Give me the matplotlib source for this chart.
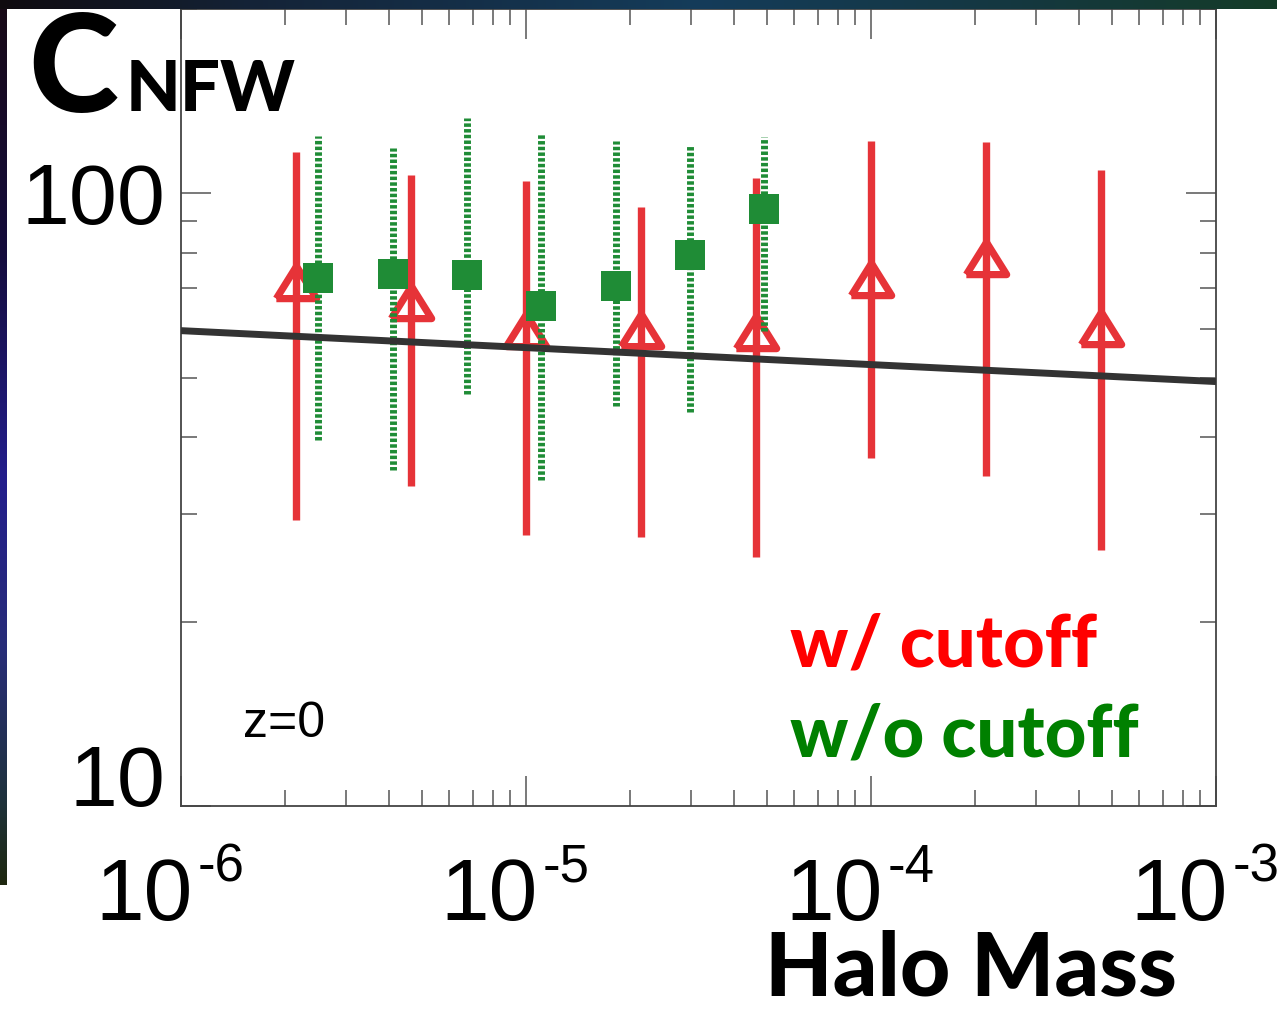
import numpy as np
import matplotlib
matplotlib.use('Agg')
import matplotlib.pyplot as plt
from matplotlib.transforms import blended_transform_factory, offset_copy

# ---------------- data ----------------
red_mass = [2.15e-6, 4.64e-6, 1.0e-5, 2.15e-5, 4.64e-5, 1.0e-4, 2.15e-4, 4.64e-4]
red_c = [71.6, 66.6, 59.9, 59.9, 59.3, 72.6, 78.3, 60.4]
red_hi = [117.0, 107.0, 104.6, 94.9, 105.8, 121.6, 121.2, 109.4]
red_lo = [29.3, 33.3, 27.7, 27.5, 25.5, 37.0, 34.6, 26.2]

green_mass = [2.49e-6, 4.12e-6, 6.75e-6, 1.105e-5, 1.82e-5, 2.99e-5, 4.90e-5]
green_c = [72.9, 73.8, 73.5, 65.4, 70.5, 79.2, 94.2]
green_hi = [123.9, 118.5, 132.6, 125.3, 121.6, 119.4, 123.5]
green_lo = [39.6, 35.4, 47.0, 34.0, 44.9, 44.0, 59.7]

model_mass = [1e-6, 1e-3]
model_c = [59.7, 49.3]

xticks = [1e-6, 1e-5, 1e-4, 1e-3]
xtick_exp = ['-6', '-5', '-4', '-3']
yticks = [10, 100]
ytick_labels = ['10', '100']

# ---------------- style ----------------
W, H = 1277, 1009
RED = '#e63338'
GREEN = '#1f8c36'
NARROW = ['Liberation Sans', 'Open Sans', 'DejaVu Sans']
HEAVY = ['Lato', 'Liberation Sans', 'DejaVu Sans']

fig = plt.figure(figsize=(W / 100, H / 100), dpi=100)
fig.patch.set_facecolor('white')

def fx(x):
    return x / W

def fy(y):
    return 1 - y / H

# decorative gradient strips (left and top edges)
def gradient(stops, n):
    pos = np.array([s[0] for s in stops], dtype=float)
    cols = np.array([s[1] for s in stops], dtype=float) / 255.0
    t = np.linspace(0, pos[-1], n)
    return np.stack([np.interp(t, pos, cols[:, k]) for k in range(3)], axis=1)

left = gradient([(0, (25, 10, 22)), (250, (20, 12, 60)), (480, (35, 30, 140)),
                 (650, (40, 45, 120)), (800, (30, 50, 60)), (885, (30, 40, 15))], 885)
left_img = np.repeat(left[:, None, :], 7, axis=1)
fig.figimage(left_img, xo=0, yo=H - 885, origin='upper', zorder=0)
top = gradient([(0, (15, 10, 15)), (250, (20, 35, 55)), (700, (20, 60, 90)),
                (1000, (20, 55, 65)), (1277, (20, 60, 40))], W)
top_img = np.repeat(top[None, :, :], 9, axis=0)
fig.figimage(top_img, xo=0, yo=H - 9, origin='upper', zorder=0)

ax = fig.add_axes([fx(181), fy(806), (1216 - 181) / W, (806 - 9) / H])
ax.set_xscale('log')
ax.set_yscale('log')
ax.set_xlim(1e-6, 1e-3)
ax.set_ylim(10, 200)
ax.set_facecolor('white')

for s in ax.spines.values():
    s.set_color('#444444')
    s.set_linewidth(1.3)

ax.tick_params(which='both', direction='in', top=True, right=True, color='#555555', width=1.1)
ax.tick_params(which='major', length=21.5)
ax.tick_params(which='minor', length=11.5)
ax.tick_params(axis='y', which='major', pad=11)

ax.set_xticks(xticks)
ax.set_xticklabels([''] * len(xticks))
ax.set_yticks(yticks)
ax.set_yticklabels(ytick_labels, fontsize=62, family=NARROW)
for lab in ax.get_yticklabels():
    if lab.get_text() == '10':
        lab.set_verticalalignment('baseline')
ax.tick_params(axis='y', which='minor', labelleft=False)
ax.tick_params(axis='x', which='minor', labelbottom=False)

# manual x tick labels "10" + superscript exponent
trans = blended_transform_factory(ax.transData, ax.transAxes)
for xv, ex in zip(xticks, xtick_exp):
    t1 = offset_copy(trans, fig=fig, x=12, y=-114, units='dots')
    ax.text(xv, 0, '10', transform=t1, ha='right', va='baseline',
            fontsize=63, family=NARROW, clip_on=False)
    t2 = offset_copy(trans, fig=fig, x=17, y=-76, units='dots')
    ax.text(xv, 0, ex, transform=t2, ha='left', va='baseline',
            fontsize=38, family=NARROW, clip_on=False)

# error bars and markers
ax.vlines(red_mass, red_lo, red_hi, colors=RED, linewidth=5.3, zorder=2.1)
tri = [(-1, -0.8), (1, -0.8), (0, 0.8), (-1, -0.8)]
ax.plot(red_mass, red_c, ls='none', marker=tri, ms=29, mfc='white', mec=RED,
        mew=5.2, zorder=2)

gv = ax.vlines(green_mass, green_lo, green_hi, colors=GREEN, linewidth=5.0, zorder=3)
gv.set_linestyle((0, (0.5, 0.32)))
gv.set_capstyle('butt')
ax.plot(green_mass, green_c, ls='none', marker='s', ms=21, mfc=GREEN, mec=GREEN,
        mew=0, zorder=3.1)

ax.plot(model_mass, model_c, color='#333333', lw=5, zorder=4, solid_capstyle='butt')

# texts
fig.text(fx(28), fy(112), 'C', fontsize=98, family=HEAVY, weight='black', va='baseline')
fig.text(fx(126), fy(111), 'NFW', fontsize=51, family=HEAVY, weight='black', va='baseline')
fig.text(fx(765), fy(995), 'Halo Mass', fontsize=63, family=HEAVY, weight='black', va='baseline')
fig.text(fx(790), fy(667), 'w/ cutoff', fontsize=52, family=HEAVY, weight='black',
         color='#ff0000', va='baseline')
fig.text(fx(790), fy(756), 'w/o cutoff', fontsize=52, family=HEAVY, weight='black',
         color='#008000', va='baseline')
fig.text(fx(243), fy(737), 'z=0', fontsize=36, family=NARROW, va='baseline')

fig.savefig('out.png', dpi=100, facecolor='white')
